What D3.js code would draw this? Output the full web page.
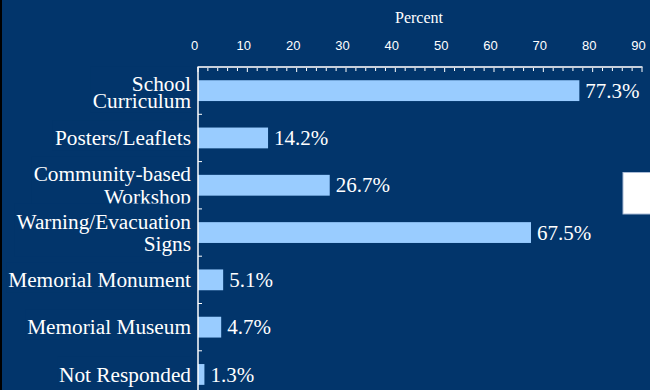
<!DOCTYPE html>
<html>
<head>
<meta charset="utf-8">
<script src="https://cdn.jsdelivr.net/npm/d3@7/dist/d3.min.js"></script>
<style>
  html, body { margin: 0; padding: 0; background: #02356b; }
  svg { display: block; }
</style>
</head>
<body>
<svg id="chart" width="650" height="390"></svg>
<script>
// Media channels and share of respondents (%)
const categories = [
  ["School", "Curriculum"],
  ["Posters/Leaflets"],
  ["Community-based", "Workshop"],
  ["Warning/Evacuation", "Signs"],
  ["Memorial Monument"],
  ["Memorial Museum"],
  ["Not Responded"]
];
const values = [77.3, 14.2, 26.7, 67.5, 5.1, 4.7, 1.3];
const xTicks = [0, 10, 20, 30, 40, 50, 60, 70, 80, 90];
const axisTitle = "Percent";

// per-label line spacing (px) for the wrapped category names
const lineGap = [16.7, 22.5, 22.5, 22.5, 22.5, 22.5, 22.5];
const labelShift = [1.5, 0, 0, 0, 0, 0, 0];

const svg = d3.select("#chart");
const W = 650, H = 390;
const BG = "#02356b";
const margin = { left: 198, top: 67 };
const serif = "Liberation Serif, Times New Roman, serif";

svg.append("rect").attr("width", W).attr("height", H).attr("fill", BG);
svg.append("rect").attr("width", 2).attr("height", H).attr("fill", "#000");

const ids = categories.map((d, i) => i);
const x = d3.scaleLinear().domain([0, 90]).range([margin.left, 642]);
const y = d3.scaleBand().domain(ids).range([margin.top, margin.top + 7 * 47.3])
  .paddingInner(0.56).paddingOuter(0.28);
const yTick = d3.scaleBand().domain(ids).range([margin.top, margin.top + 7 * 47.3]);

// bars
svg.append("g").selectAll("rect").data(values).join("rect")
  .attr("x", x(0))
  .attr("y", (d, i) => y(i))
  .attr("width", d => x(d) - x(0))
  .attr("height", y.bandwidth())
  .attr("fill", "#99ccff");

// value labels
svg.append("g").selectAll("text").data(values).join("text")
  .attr("x", d => x(d) + 6)
  .attr("y", (d, i) => y(i) + y.bandwidth() / 2)
  .attr("dy", "0.34em")
  .attr("fill", "#ffffff")
  .attr("font-family", serif)
  .attr("font-size", 21)
  .text(d => d.toFixed(1) + "%");

// top axis: minor ticks every 2, majors every 10
const minor = d3.range(0, 91, 2);
const axisG = svg.append("g");
axisG.selectAll("line.tick").data(minor).join("line")
  .attr("x1", d => x(d)).attr("x2", d => x(d))
  .attr("y1", margin.top)
  .attr("y2", d => margin.top + (d % 10 === 0 ? 5 : 4))
  .attr("stroke", "#ffffff").attr("stroke-width", 1);
axisG.append("line")
  .attr("x1", x(0) - 0.5).attr("x2", x(90) + 0.5)
  .attr("y1", margin.top).attr("y2", margin.top)
  .attr("stroke", "#c8d0dc").attr("stroke-width", 2);

axisG.selectAll("text").data(xTicks).join("text")
  .attr("x", d => x(d) - 3.5)
  .attr("y", 50)
  .attr("text-anchor", "middle")
  .attr("fill", "#ffffff")
  .attr("font-family", "Liberation Sans, Arial, sans-serif")
  .attr("font-size", 13)
  .text(d => d);

svg.append("text")
  .attr("x", 419)
  .attr("y", 23)
  .attr("text-anchor", "middle")
  .attr("fill", "#ffffff")
  .attr("font-family", serif)
  .attr("font-size", 16)
  .text(axisTitle);

// left axis
svg.append("line")
  .attr("x1", x(0)).attr("x2", x(0))
  .attr("y1", margin.top).attr("y2", H)
  .attr("stroke", "#ffffff").attr("stroke-width", 1.5);
svg.append("g").selectAll("line").data(ids.slice(1)).join("line")
  .attr("x1", x(0)).attr("x2", x(0) + 4)
  .attr("y1", d => yTick(d)).attr("y2", d => yTick(d))
  .attr("stroke", "#ffffff").attr("stroke-width", 1);

// category labels, each on an opaque box so a later label hides
// whatever of the previous one reaches into it
const labG = svg.append("g");
categories.forEach((lines, i) => {
  const g = labG.append("g");
  const bg = g.append("rect").attr("fill", BG);
  const t = g.append("text")
    .attr("text-anchor", "end")
    .attr("fill", "#ffffff")
    .attr("font-family", serif)
    .attr("font-size", 21.3);
  const c = y(i) + y.bandwidth() / 2 + labelShift[i];
  const lh = lineGap[i];
  const start = c - (lines.length - 1) * lh / 2;
  t.selectAll("tspan").data(lines).join("tspan")
    .attr("x", x(0) - 7)
    .attr("y", (d, k) => start + k * lh)
    .attr("dy", "0.34em")
    .text(d => d);
  const b = t.node().getBBox();
  bg.attr("x", b.x - 2).attr("y", b.y - 6)
    .attr("width", b.width + 4).attr("height", b.height + 6);
});

// white box on the right edge
svg.append("rect")
  .attr("x", 623).attr("y", 172.5).attr("width", 30).attr("height", 41.5)
  .attr("fill", "#ffffff").attr("stroke", "#a9bbd6").attr("stroke-width", 1);
</script>
</body>
</html>
